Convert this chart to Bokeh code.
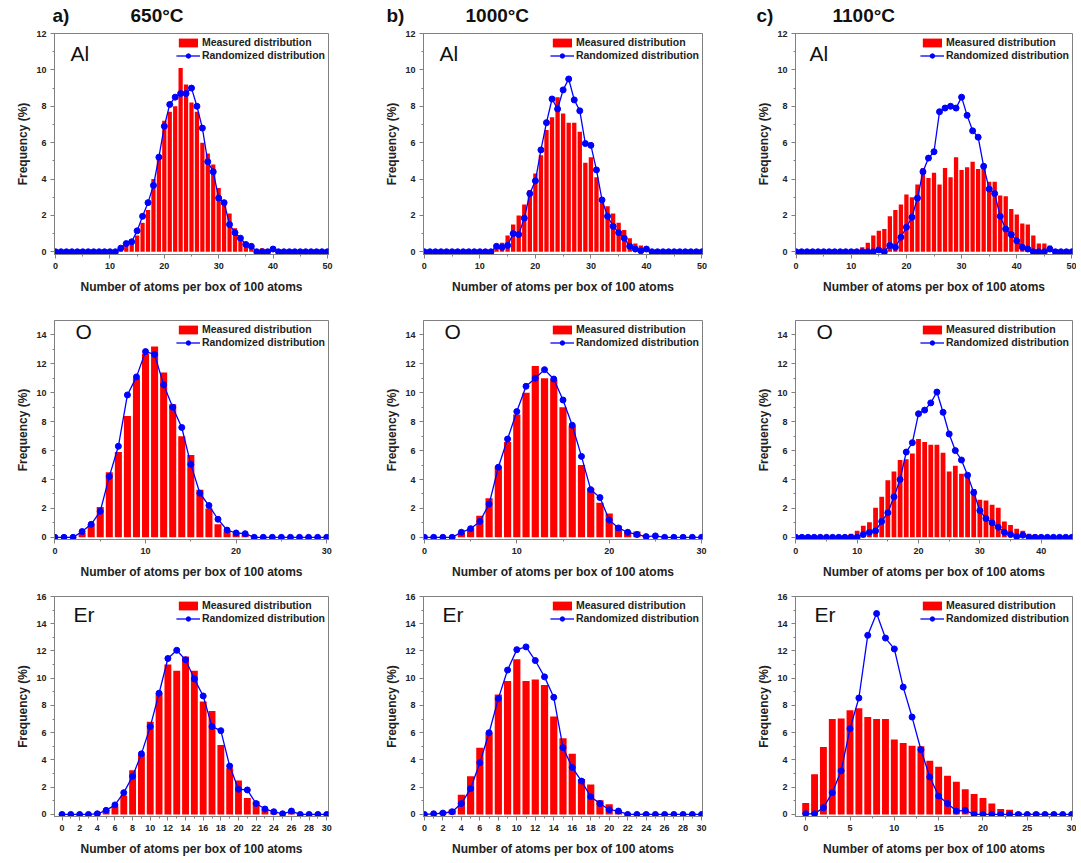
from bokeh.plotting import figure
from bokeh.models import Range1d, Label, FixedTicker, Legend, LegendItem
from bokeh.layouts import column, row
from bokeh.embed import file_html
from bokeh.resources import INLINE
from bokeh.core.properties import value

# ---------------- data ----------------
x_al = list(range(0, 51))
x_o_ab = list(range(0, 31))
x_o_c = list(range(0, 46))
x_er = list(range(0, 31))

al_650_meas = [0]*11 + [0.1, 0.1, 0.4, 0.5, 0.9, 1.6, 2.3, 4.0, 5.2, 7.2, 7.7, 8.0, 10.1, 9.2, 8.2, 7.7,
                       6.0, 5.4, 4.8, 3.5, 2.7, 2.1, 1.3, 0.8, 0.5, 0.2, 0.05, 0.2, 0, 0.1] + [0]*10
al_650_rand = [0]*12 + [0.2, 0.45, 0.55, 1.15, 1.95, 2.7, 3.65, 5.2, 6.9, 8.1, 8.5, 8.7, 8.7, 9.0, 8.0,
                       6.8, 4.95, 4.4, 2.95, 2.7, 1.5, 1.05, 0.75, 0.4, 0.3, 0, 0, 0, 0.15] + [0]*10

al_1000_meas = [0]*11 + [0.1, 0.1, 0.3, 0.5, 0.9, 1.5, 2.0, 2.6, 3.4, 4.3, 5.3, 6.7, 7.4, 8.5, 7.6, 7.1,
                        7.1, 6.6, 4.9, 5.2, 4.1, 2.7, 2.5, 2.1, 1.6, 1.2, 0.75, 0.45, 0.35, 0.1, 0.05] + [0]*9
al_1000_rand = [0]*13 + [0.3, 0.25, 0.35, 1.0, 0.95, 1.85, 3.2, 3.9, 5.6, 7.1, 8.4, 7.85, 8.9, 9.5, 8.35,
                        7.75, 5.95, 5.85, 4.5, 2.85, 1.95, 1.4, 1.05, 0.75, 0.3, 0.15, 0.05, 0.15] + [0]*10

al_1100_meas = [0]*10 + [0.1, 0.1, 0.25, 0.5, 0.9, 1.15, 1.25, 1.95, 2.3, 2.6, 3.15, 3.0, 3.7, 4.6, 4.05,
                        4.35, 3.7, 4.6, 4.1, 5.2, 4.5, 4.65, 4.95, 4.55, 4.65, 3.85, 3.85, 3.1, 3.05,
                        2.35, 2.05, 1.55, 1.5, 0.9, 0.45, 0.45, 0.35, 0.15, 0.05, 0, 0]
al_1100_rand = [0]*15 + [0.1, 0, 0.35, 0.25, 0.8, 1.35, 1.9, 2.95, 4.4, 5.15, 5.5, 7.7, 7.9, 8.0, 7.9,
                        8.5, 7.5, 6.65, 6.3, 4.7, 3.45, 3.2, 1.95, 1.25, 0.95, 0.6, 0.25, 0.15, 0, 0, 0,
                        0.15] + [0]*4

o_650_meas = [0]*3 + [0.3, 0.9, 2.1, 4.5, 5.9, 8.4, 11.0, 12.7, 13.2, 11.4, 9.2, 7.0, 5.7, 3.3, 2.0,
                      0.9, 0.4, 0.25, 0.2] + [0]*9
o_650_rand = [0]*3 + [0.4, 0.9, 1.8, 4.2, 6.3, 9.85, 11.1, 12.85, 12.65, 10.55, 9.0, 7.6, 5.05, 3.05,
                      2.2, 1.25, 0.5, 0.3, 0.25] + [0]*9

o_1000_meas = [0]*4 + [0.3, 0.6, 1.5, 2.7, 4.9, 6.6, 8.5, 10.0, 11.85, 11.0, 10.9, 9.0, 7.7, 5.0, 3.4,
                       2.4, 1.65, 0.8, 0.4, 0.4, 0.1, 0.05] + [0]*5
o_1000_rand = [0]*4 + [0.35, 0.6, 1.1, 2.3, 4.85, 6.8, 8.7, 10.45, 11.0, 11.6, 10.95, 9.5, 7.75, 5.6,
                       3.3, 2.75, 1.2, 0.65, 0.35, 0.2, 0.05, 0.1] + [0]*5

o_1100_meas = [0]*9 + [0.25, 0.45, 0.8, 1.05, 2.05, 2.8, 3.95, 4.55, 5.35, 5.4, 5.8, 6.8, 6.6, 6.4, 6.4,
                       5.85, 4.55, 4.95, 4.4, 4.2, 3.35, 2.6, 2.55, 2.25, 2.05, 1.1, 0.85, 0.6, 0.45,
                       0.25, 0.2, 0.1, 0.05] + [0]*4
o_1100_rand = [0]*11 + [0.2, 0.35, 0.45, 1.1, 1.7, 2.8, 4.0, 5.9, 6.55, 8.55, 8.8, 9.3, 10.05, 8.65,
                        7.15, 6.0, 5.35, 4.3, 3.1, 1.85, 1.3, 1.0, 0.7, 0.35, 0.2, 0.05, 0.15] + [0]*8

er_650_meas = [0]*4 + [0.15, 0.3, 0.6, 1.4, 3.25, 4.4, 6.8, 8.9, 11.0, 10.55, 11.6, 10.55, 8.3, 7.6,
                       5.1, 3.4, 2.5, 1.2, 0.95, 0.4, 0.15, 0, 0.15] + [0]*4
er_650_rand = [0]*4 + [0.05, 0.3, 0.7, 1.6, 2.8, 4.45, 6.45, 8.9, 11.45, 12.05, 11.35, 9.95, 8.7, 6.45,
                       6.15, 3.55, 1.85, 1.8, 0.8, 0.4, 0.2, 0.05, 0.25] + [0]*4

er_1000_meas = [0, 0.05, 0.2, 0.35, 1.45, 2.8, 4.9, 6.0, 8.8, 9.8, 11.4, 9.8, 9.9, 9.5, 7.2, 5.6, 4.45,
                2.6, 2.2, 1.05, 0.75, 0.3, 0.05, 0.05, 0.1] + [0]*6
er_1000_rand = [0, 0.05, 0.1, 0.2, 0.8, 1.9, 3.8, 6.0, 8.5, 10.6, 12.1, 12.3, 11.3, 10.1, 8.6, 4.9, 3.45,
                2.45, 1.3, 0.8, 0.35, 0.25] + [0]*9

er_1100_meas = [0.85, 2.95, 4.95, 7.0, 7.05, 7.65, 7.8, 7.15, 7.0, 7.0, 5.5, 5.25, 5.05, 5.0, 3.95, 3.5,
                2.85, 2.4, 1.85, 1.5, 1.2, 0.8, 0.4, 0.35, 0.15, 0.1, 0.15, 0.1, 0.05, 0.05, 0]
er_1100_rand = [0.05, 0.05, 0.5, 1.6, 3.2, 6.3, 8.55, 13.15, 14.75, 12.95, 12.15, 9.35, 7.15, 4.75, 2.75,
                1.35, 0.8, 0.25, 0.3] + [0]*12

panel_letters = ["a)", "b)", "c)"]
temperatures = ["650°C", "1000°C", "1100°C"]
elements = ["Al", "O", "Er"]

# ---------------- style ----------------
FONT = "Liberation Sans"
RED = "#ff0000"
BLUE = "#0000ff"
AXIS_GRAY = "#808080"
TXT = "#222222"

col_geo = [  # left border, frame width, right border
    (54, 274, 35),
    (60, 279, 16),
    (77, 277, 4),
]
row_geo = [  # top border, frame height, bottom border
    (5, 224, 39),
    (24, 224, 37),
    (15, 222, 40),
]
HEADER_H = 28
# header text placement (px from the left of each column, px from the top)
letter_dx = [52, 23, 38]
temp_dx = [130, 102, 114]
title_dy = 15


def make_header(c):
    bl, fw, br = col_geo[c]
    w = bl + fw + br
    h = figure(width=w, height=HEADER_H, x_range=Range1d(0, w), y_range=Range1d(0, HEADER_H),
               output_backend="svg", toolbar_location=None,
               min_border_left=0, min_border_right=0, min_border_top=0, min_border_bottom=0)
    h.axis.visible = False
    h.xgrid.visible = False
    h.ygrid.visible = False
    h.outline_line_color = None
    h.text(x=[letter_dx[c], temp_dx[c]], y=[HEADER_H - title_dy] * 2,
           text=[panel_letters[c], temperatures[c]],
           text_font=value(FONT), text_font_size=value("19px"), text_font_style="bold",
           text_color="#111111", text_baseline="middle", text_align="left")
    return h


def make_panel(r, c, x, meas, rand, xr, yr, xticks, yticks, elem, elem_dx, elem_base):
    bl, fw, br = col_geo[c]
    bt, fh, bb = row_geo[r]
    p = figure(width=bl + fw + br, height=bt + fh + bb,
               x_range=Range1d(*xr), y_range=Range1d(*yr),
               output_backend="svg", toolbar_location=None,
               min_border_left=bl, min_border_right=br,
               min_border_top=bt, min_border_bottom=bb)
    p.xgrid.visible = False
    p.ygrid.visible = False
    p.outline_line_color = AXIS_GRAY
    p.outline_line_width = 1
    p.background_fill_color = "white"

    vb = p.vbar(x=x, top=meas, width=0.78, fill_color=RED, line_color=None)
    ln = p.line(x, rand, line_color=BLUE, line_width=1.3)
    sc = p.scatter(x, rand, size=6, fill_color=BLUE, line_color=BLUE, marker="circle")

    legend = Legend(items=[LegendItem(label="Measured distribution", renderers=[vb]),
                           LegendItem(label="Randomized distribution", renderers=[ln, sc])],
                    location="top_right")
    legend.border_line_color = None
    legend.background_fill_alpha = 0
    legend.padding = 0
    legend.margin = 3
    legend.spacing = 1
    legend.label_standoff = 2
    legend.glyph_width = 24
    legend.glyph_height = 11
    legend.label_height = 12
    legend.label_text_font = FONT
    legend.label_text_font_size = "10.5px"
    legend.label_text_font_style = "bold"
    legend.label_text_color = TXT
    p.add_layout(legend, "center")

    for ax in (p.xaxis[0], p.yaxis[0]):
        ax.axis_line_color = AXIS_GRAY
        ax.major_tick_line_color = AXIS_GRAY
        ax.minor_tick_line_color = AXIS_GRAY
        ax.major_tick_out = 4
        ax.major_tick_in = 0
        ax.minor_tick_out = 2
        ax.minor_tick_in = 0
        ax.major_label_text_font = FONT
        ax.major_label_text_font_size = "9px"
        ax.major_label_text_font_style = "bold"
        ax.major_label_text_color = TXT
        ax.axis_label_text_font = FONT
        ax.axis_label_text_font_size = "12px"
        ax.axis_label_text_font_style = "bold"
        ax.axis_label_text_color = TXT
        ax.major_label_standoff = 4
    p.xaxis[0].ticker = FixedTicker(ticks=xticks,
                                    minor_ticks=[t + (xticks[1] - xticks[0]) / 2 for t in xticks[:-1]])
    p.yaxis[0].ticker = FixedTicker(ticks=yticks,
                                    minor_ticks=[t + 1 for t in yticks[:-1]])
    p.xaxis[0].axis_label = "Number of atoms per box of 100 atoms"
    p.yaxis[0].axis_label = "Frequency (%)"
    p.xaxis[0].axis_label_standoff = 8
    p.yaxis[0].axis_label_standoff = 3

    sx = (xr[1] - xr[0]) / fw
    sy = (yr[1] - yr[0]) / fh
    p.add_layout(Label(x=xr[0] + elem_dx * sx, y=yr[1] - elem_base * sy, text=elem,
                       text_font=FONT, text_font_size="21px", text_color="#111111",
                       text_baseline="alphabetic", text_align="left"))
    return p


t50 = [0, 10, 20, 30, 40, 50]
t30 = [0, 10, 20, 30]
t45 = [0, 10, 20, 30, 40]
t30b = list(range(0, 31, 2))
t30c = [0, 5, 10, 15, 20, 25, 30]
y12 = list(range(0, 13, 2))
y14 = list(range(0, 15, 2))
y16 = list(range(0, 17, 2))

h1, h2, h3 = make_header(0), make_header(1), make_header(2)

p11 = make_panel(0, 0, x_al, al_650_meas, al_650_rand, (-0.2, 50.2), (-0.15, 12), t50, y12, elements[0], 16, 20)
p12 = make_panel(0, 1, x_al, al_1000_meas, al_1000_rand, (-0.15, 50.1), (-0.15, 12), t50, y12, elements[0], 16, 20)
p13 = make_panel(0, 2, x_al, al_1100_meas, al_1100_rand, (-0.1, 50.1), (-0.15, 12), t50, y12, elements[0], 14, 20)

p21 = make_panel(1, 0, x_o_ab, o_650_meas, o_650_rand, (-0.05, 30.2), (-0.15, 15), t30, y14, elements[1], 21, 11)
p22 = make_panel(1, 1, x_o_ab, o_1000_meas, o_1000_rand, (-0.1, 30.1), (-0.15, 15), t30, y14, elements[1], 21, 11)
p23 = make_panel(1, 2, x_o_c, o_1100_meas, o_1100_rand, (-0.05, 45.1), (-0.15, 15), t45, y14, elements[1], 21, 11)

p31 = make_panel(2, 0, x_er, er_650_meas, er_650_rand, (-0.85, 30.2), (-0.15, 16), t30b, y16, elements[2], 19, 18.5)
p32 = make_panel(2, 1, x_er, er_1000_meas, er_1000_rand, (-0.1, 30.1), (-0.15, 16), t30b, y16, elements[2], 19, 18.5)
p33 = make_panel(2, 2, x_er, er_1100_meas, er_1100_rand, (-1.15, 30.1), (-0.15, 16), t30c, y16, elements[2], 19, 18.5)

layout = column(row(h1, h2, h3, spacing=0),
                row(p11, p12, p13, spacing=0),
                row(p21, p22, p23, spacing=0),
                row(p31, p32, p33, spacing=0), spacing=0)

open("out.html", "w").write(file_html(layout, INLINE))
